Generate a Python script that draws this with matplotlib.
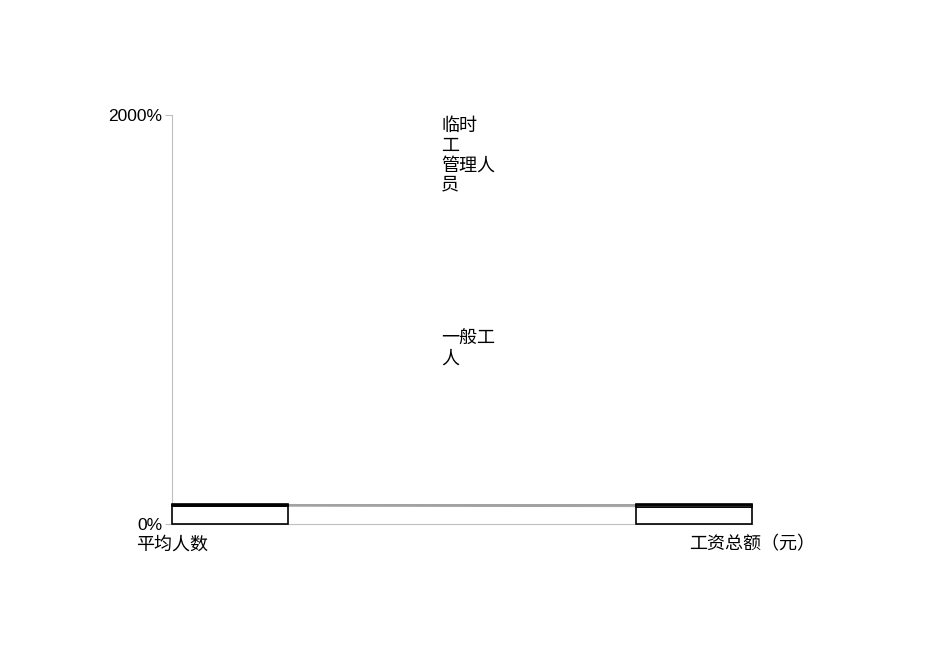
import numpy as np
import matplotlib
matplotlib.use("Agg")
from matplotlib import pyplot as plt

plt.rcParams['font.family'] = ['Liberation Sans', 'Noto Sans CJK SC', 'DejaVu Sans']

# Data (share of each group, percent)
categories = ['平均人数', '工资总额（元）']
series_names = ['一般工人', '管理人员', '临时工']
general_workers = [87, 85]
managers = [8, 10]
temp_workers = [5, 5]
y_ticks = [0, 2000]
y_tick_labels = ['0%', '2000%']
# labels as they wrap in the original
label_texts = ['临时\n工\n管理人\n员', '一般工\n人']
label_y = [1985, 945]

fig = plt.figure(figsize=(9.5, 6.72), dpi=100)
ax = fig.add_axes([172/950, 1-524/672, 580/950, 409/672])

x_pos = np.arange(len(categories))
width = 0.2
offsets = np.array([width/2, -width/2])   # bars sit inside the axis ends
bar_x = x_pos + offsets

stack = [general_workers, managers, temp_workers]
bottom = np.zeros(len(categories))
for vals in stack:
    vals = np.array(vals, dtype=float)
    ax.bar(bar_x, vals, width=width, bottom=bottom, color='white',
           edgecolor='black', linewidth=1.2, zorder=3, clip_on=False)
    top = bottom + vals
    # series lines between the two bars
    ax.plot([bar_x[0] + width/2, bar_x[1] - width/2], top,
            color='#a0a0a0', linewidth=0.7, zorder=2)
    bottom = top

ax.set_xlim(0, 1)
ax.set_ylim(0, 2000)
ax.set_xticks(x_pos)
ax.set_xticklabels(categories, fontsize=13)
ax.set_yticks(y_ticks)
ax.set_yticklabels(y_tick_labels, fontsize=12.5)
ax.tick_params(axis='x', length=0, pad=9)
ax.tick_params(axis='y', length=5, color='#bfbfbf', pad=2)

for side in ['top', 'right']:
    ax.spines[side].set_visible(False)
ax.spines['left'].set_color('#bfbfbf')
ax.spines['bottom'].set_color('#bfbfbf')
ax.spines['left'].set_zorder(1)
ax.spines['bottom'].set_zorder(1)

for txt, yy in zip(label_texts, label_y):
    ax.text(0.464, yy, txt, fontsize=13, va='top', ha='left',
            linespacing=1.2)

fig.savefig('out.png', dpi=100)
